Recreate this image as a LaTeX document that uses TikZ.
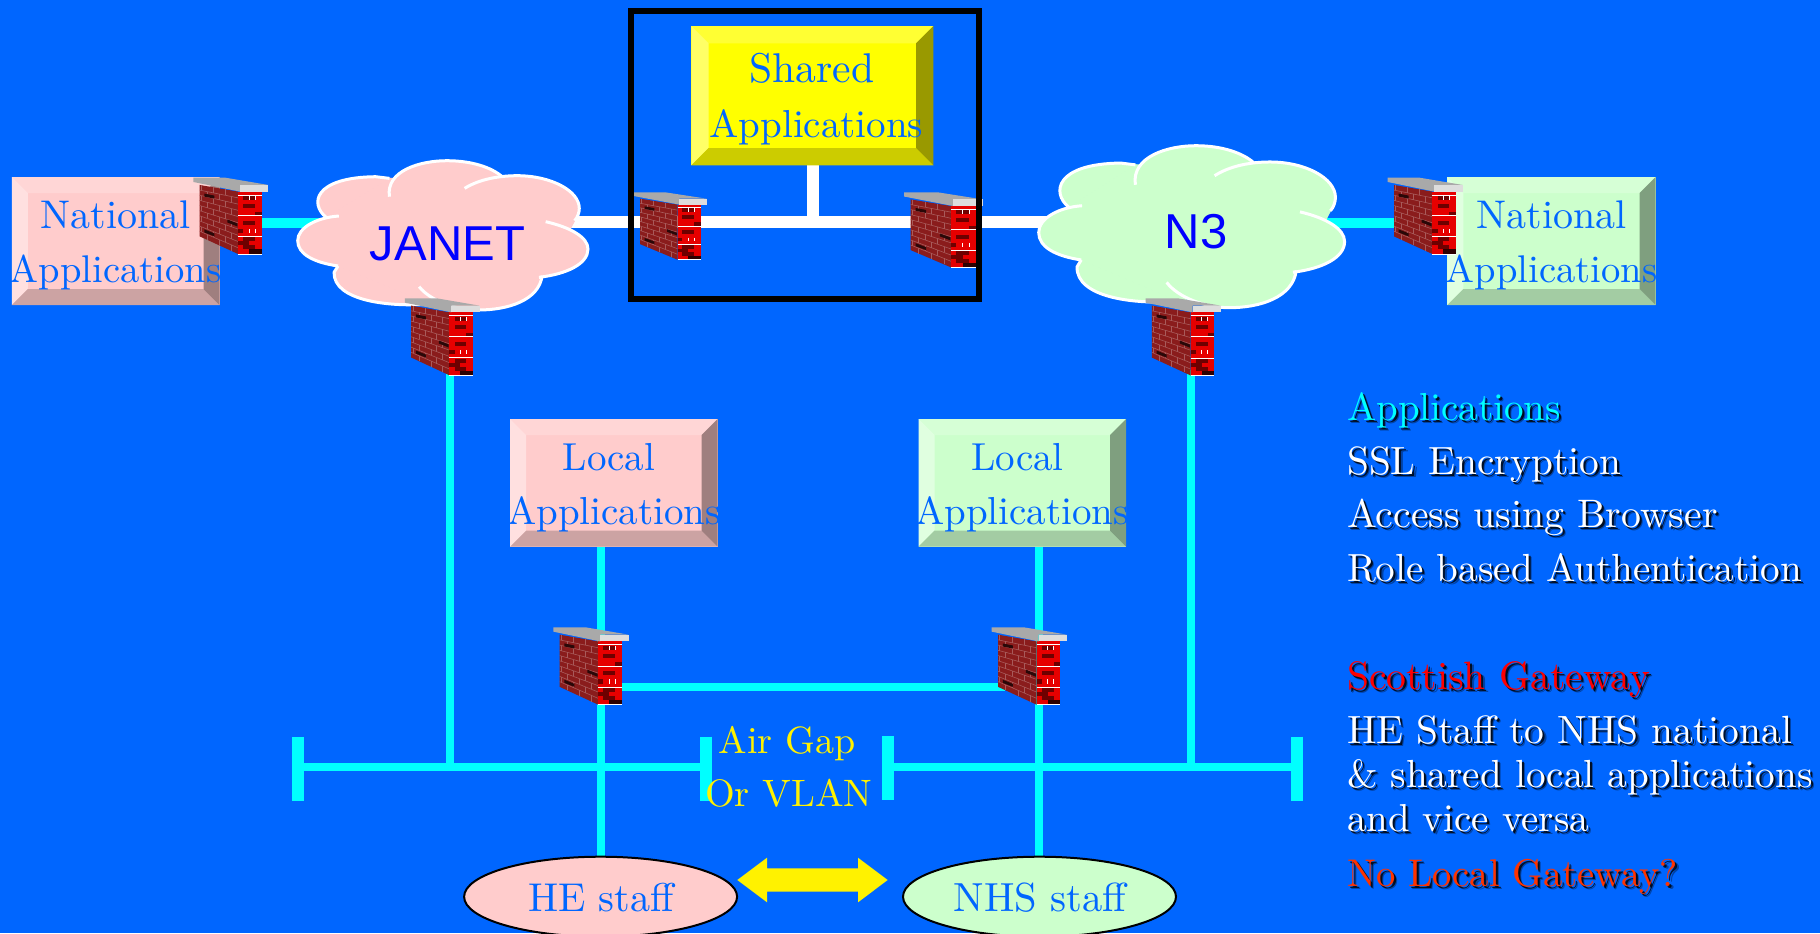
\documentclass[tikz,border=0pt]{standalone}
\usepackage{fontspec}
\usetikzlibrary{shapes.geometric}
\newfontfamily\arialfont{Liberation Sans}
\definecolor{bgblue}{HTML}{0066FF}
\definecolor{aqua}{HTML}{00FFFF}
\definecolor{pinkface}{HTML}{FFCCCC}
\definecolor{pinktop}{HTML}{FFD6D6}
\definecolor{pinkleft}{HTML}{FFE0E0}
\definecolor{pinkbot}{HTML}{CCA3A3}
\definecolor{pinkright}{HTML}{9F7F7F}
\definecolor{greenface}{HTML}{CCFFCC}
\definecolor{greentop}{HTML}{D6FFD6}
\definecolor{greenleft}{HTML}{E0FFE0}
\definecolor{greenbot}{HTML}{A3CCA3}
\definecolor{greenright}{HTML}{7F9F7F}
\definecolor{yelface}{HTML}{FFFF00}
\definecolor{yeltop}{HTML}{FFFF33}
\definecolor{yelleft}{HTML}{FFFF66}
\definecolor{yelbot}{HTML}{CCCC00}
\definecolor{yelright}{HTML}{999900}
\definecolor{brickwall}{HTML}{8A1C1C}
\definecolor{brickline}{HTML}{A85A5A}
\definecolor{brickdark}{HTML}{6E0000}
\definecolor{brickred}{HTML}{E60000}
\definecolor{capdark}{HTML}{A9A9A9}
\definecolor{caplight}{HTML}{DDDDDD}
\definecolor{orangered}{HTML}{FF3300}
\tikzset{
  cyanwire/.style={draw=aqua,line width=4pt},
  whitewire/.style={draw=white,line width=6pt},
  barwire/.style={draw=aqua,line width=6pt},
  lab/.style={anchor=base,inner sep=0pt},
  boxlab/.style={lab,text=bgblue},
  leftlab/.style={anchor=base west,inner sep=0pt},
  cloudlab/.style={anchor=base,inner sep=0pt,text=blue,font=\arialfont\fontsize{24.5}{28}\selectfont},
  staff/.style={draw=black,line width=1pt,ellipse,minimum width=136.5pt,minimum height=40pt,inner sep=0pt},
  framebox/.style={draw=black,line width=3pt},
}
% text set at the 10pt design size and enlarged
\newcommand{\bigt}[2][1.95]{\scalebox{#1}{#2}}
% bevelled box: name, left, top, right, bottom, colour prefix, bevel
\newcommand{\bevelbox}[7]{%
  \fill[#6face] (#2,#3) rectangle (#4,#5);
  \fill[#6top] (#2,#3) -- (#4,#3) -- ({#4-#7},{#3+#7}) -- ({#2+#7},{#3+#7}) -- cycle;
  \fill[#6left] (#2,#3) -- ({#2+#7},{#3+#7}) -- ({#2+#7},{#5-#7}) -- (#2,#5) -- cycle;
  \fill[#6bot] (#2,#5) -- ({#2+#7},{#5-#7}) -- ({#4-#7},{#5-#7}) -- (#4,#5) -- cycle;
  \fill[#6right] (#4,#3) -- ({#4-#7},{#3+#7}) -- ({#4-#7},{#5-#7}) -- (#4,#5) -- cycle;
  \coordinate (#1) at ({(#2+#4)/2},{(#3+#5)/2});
}
% firewall: name, x, y, w, h
\newcommand{\firewall}[5]{%
  \begin{scope}[shift={(#2,#3)},xscale={#4/75},yscale={#5/77}]
    \fill[brickwall] (6.3,7.3) -- (44.7,14) -- (44.7,76.7) -- (6.3,59) -- cycle;
    \foreach \i in {1,...,9}{
      \pgfmathsetmacro{\ya}{7.3+\i*5.17}
      \pgfmathsetmacro{\yb}{14+\i*6.27}
      \draw[brickline,line width=.3pt] (6.3,\ya) -- (44.7,\yb);
    }
    \foreach \i in {0,...,9}{
      \pgfmathsetmacro{\s}{mod(\i,2)==0 ? 0 : 6}
      \foreach \f in {10,22,34}{
        \pgfmathsetmacro{\xx}{\f+\s-2}
        \pgfmathsetmacro{\t}{(\xx-6.3)/38.4}
        \pgfmathsetmacro{\ya}{(7.3+\i*5.17)*(1-\t)+(14+\i*6.27)*\t}
        \pgfmathsetmacro{\yb}{(7.3+(\i+1)*5.17)*(1-\t)+(14+(\i+1)*6.27)*\t}
        \draw[brickline,line width=.3pt] (\xx,\ya) -- (\xx,\yb);
      }
    }
    \fill[black!70!brickwall] (11,16) -- (21,18) -- (21,21) -- (11,19) -- cycle;
    \fill[black!70!brickwall] (11,52) -- (21,56) -- (21,59) -- (11,55) -- cycle;
    \fill[black!70!brickwall] (34,42) -- (44,46) -- (44,49) -- (34,45) -- cycle;
    \fill[brickred] (44.7,14) rectangle (68.4,76.7);
    \fill[brickdark] (49.8,18.3) rectangle (61.7,22.3);
    \fill[brickdark] (49.8,26.3) rectangle (61.7,30.3);
    \fill[brickdark] (61.7,34.3) rectangle (68.4,38.3);
    \fill[brickdark] (49.8,43.3) rectangle (61.7,47.3);
    \fill[brickdark] (44.7,51.7) rectangle (49.8,55.7);
    \fill[brickdark] (49.8,60) rectangle (61.7,64);
    \fill[brickdark] (44.7,64) rectangle (55.7,68);
    \fill[brickdark] (49.8,68) rectangle (61.7,72);
    \fill[black!60!brickdark] (55.7,72) rectangle (68.4,76.7);
    \foreach \yy in {17.3,38.3,59.3,76.7}{\draw[white,line width=.4pt] (44.7,\yy) -- (68.4,\yy);}
    \foreach \xx/\ya/\yb in {55.7/18.3/22.3,61.7/18.3/22.3,55.7/51.7/55.7,61.7/51.7/55.7}{\draw[white,line width=.3pt] (\xx,\ya) -- (\xx,\yb);}
    \fill[capdark] (0,0) -- (32,0) -- (75,7.3) -- (46.7,7.3) -- (46.7,14) -- (0,4.3) -- cycle;
    \fill[caplight] (46.7,7.3) rectangle (75,14);
    \coordinate (#1) at (37.5,38.5);
  \end{scope}
}
% cloud: name, left, top, width, height, colour
\newcommand{\netcloud}[6]{%
  \begin{scope}[shift={(#2,#3)},xscale={#4/734},yscale={#5/448}]
    \begin{scope}[fill=#6,draw=#6,line width=.5pt]
    \filldraw (72,170) .. controls (30,130) and (40,50) .. (197,48) -- (232,53) -- cycle;
    \filldraw (232,108) .. controls (222,30) and (310,0) .. (377,0) .. controls (440,0) and (490,20) .. (517,48) -- cycle;
    \filldraw (422,83) .. controls (460,55) and (510,45) .. (555,45) .. controls (640,45) and (712,90) .. (712,143) .. controls (712,155) and (708,170) .. (700,180) -- cycle;
    \filldraw (627,183) .. controls (690,200) and (734,230) .. (734,265) .. controls (734,310) and (680,340) .. (610,350) -- cycle;
    \filldraw (618,345) .. controls (610,420) and (530,448) .. (457,448) .. controls (400,448) and (335,420) .. (307,378) -- cycle;
    \filldraw (335,430) .. controls (230,440) and (90,420) .. (92,335) -- (102,316) -- cycle;
    \filldraw (102,316) .. controls (40,305) and (0,280) .. (0,240) .. controls (0,200) and (50,170) .. (104,166) -- cycle;
    \filldraw (72,170) -- (232,53) -- (517,48) -- (700,180) -- (627,345) -- (335,430) -- (102,316) -- cycle;
    \end{scope}
    \begin{scope}[draw=white,line width=1.5pt]
      \draw (72,170) .. controls (30,130) and (40,50) .. (197,48) -- (232,53);
      \draw (232,108) .. controls (222,30) and (310,0) .. (377,0) .. controls (440,0) and (490,20) .. (517,48);
      \draw (422,83) .. controls (460,55) and (510,45) .. (555,45) .. controls (640,45) and (712,90) .. (712,143) .. controls (712,155) and (708,170) .. (700,180);
      \draw (627,183) .. controls (690,200) and (734,230) .. (734,265) .. controls (734,310) and (680,340) .. (610,350);
      \draw (618,345) .. controls (610,420) and (530,448) .. (457,448) .. controls (400,448) and (335,420) .. (307,378);
      \draw (335,430) .. controls (230,440) and (90,420) .. (92,335) -- (102,316);
      \draw (102,316) .. controls (40,305) and (0,280) .. (0,240) .. controls (0,200) and (50,170) .. (104,166);
    \end{scope}
    \coordinate (#1) at (367,224);
  \end{scope}
}
% shadowed text: name, x, baseline, colour, text, enlargement
\newcommand{\shadowtext}[6]{%
  \node[leftlab,text=black,opacity=.35] at ({#2+3.2},{#3+3.2}) {\bigt[#6]{#5}};
  \node[leftlab,text=black,opacity=.8] at ({#2+2},{#3+2}) {\bigt[#6]{#5}};
  \node[leftlab,text=#4] (#1) at (#2,#3) {\bigt[#6]{#5}};
}
\begin{document}
\begin{tikzpicture}[x=0.5pt,y=-0.5pt]
\useasboundingbox (0,0) rectangle (1820,933);
\clip (0,0) rectangle (1820,933);
\fill[bgblue] (0,0) rectangle (1820,933);

% connector end points
\coordinate (natLwire) at (258,222.5);
\coordinate (janetW) at (400,222.5);
\coordinate (janetE) at (560,222);
\coordinate (n3W) at (1060,222);
\coordinate (n3E) at (1310,222.5);
\coordinate (natRwire) at (1395,222.5);
\coordinate (stemT) at (812.5,160);
\coordinate (stemB) at (812.5,222);
\coordinate (janetS) at (449.8,370);
\coordinate (n3S) at (1191,370);
\coordinate (busLa) at (298,766.8);
\coordinate (busLj) at (449.8,766.8);
\coordinate (busLb) at (706.3,766.8);
\coordinate (busRa) at (888,766.5);
\coordinate (busRj) at (1191,766.5);
\coordinate (busRb) at (1296.5,766.5);
\coordinate (barLaT) at (298,737); \coordinate (barLaB) at (298,801);
\coordinate (barLbT) at (706.3,736.7); \coordinate (barLbB) at (706.3,800.7);
\coordinate (barRaT) at (888,736.3); \coordinate (barRaB) at (888,800);
\coordinate (barRbT) at (1296.5,736.7); \coordinate (barRbB) at (1296.5,800.7);
\coordinate (locLT) at (601.3,540);
\coordinate (locLB) at (601.3,860);
\coordinate (locRT) at (1039,540);
\coordinate (locRB) at (1039,860);
\coordinate (gapL) at (620,687.2);
\coordinate (gapR) at (1005,687.2);

% wires
\draw[whitewire] (janetE) -- (n3W);
\draw[whitewire] (stemT) -- (stemB);
\draw[cyanwire,line width=5pt] (natLwire) -- (janetW);
\draw[cyanwire,line width=5pt] (n3E) -- (natRwire);
\draw[cyanwire] (janetS) -- (busLj);
\draw[cyanwire] (n3S) -- (busRj);
\draw[cyanwire] (busLa) -- (busLb);
\draw[cyanwire] (busRa) -- (busRb);
\draw[barwire] (barLaT) -- (barLaB);
\draw[barwire] (barLbT) -- (barLbB);
\draw[barwire] (barRaT) -- (barRaB);
\draw[barwire] (barRbT) -- (barRbB);
\draw[cyanwire] (locLT) -- (locLB);
\draw[cyanwire] (locRT) -- (locRB);
\draw[cyanwire] (gapL) -- (gapR);

% boxes
\bevelbox{natL}{11.9}{177}{219.5}{305}{pink}{16}
\bevelbox{natR}{1447.4}{177}{1655.6}{305}{green}{16}
\bevelbox{shared}{691.3}{26}{933.3}{165.3}{yel}{17.3}
\bevelbox{locL}{510.2}{419}{717.7}{546.7}{pink}{16}
\bevelbox{locR}{918.5}{419}{1126}{546.7}{green}{16}

% clouds
\netcloud{janet}{297.7}{160.7}{290.3}{149.3}{pinkface}
\netcloud{nthree}{1038.7}{145.7}{305.9}{162}{greenface}

% firewalls
\firewall{fwA}{193.4}{177.7}{75}{76.6}
\firewall{fwB}{404.9}{298.3}{74.7}{77.3}
\firewall{fwC}{634}{192.3}{73}{67.7}
\firewall{fwD}{904}{192.3}{79}{75.4}
\firewall{fwE}{1387.7}{177.7}{75}{76.6}
\firewall{fwF}{1145.6}{298.3}{75.4}{77.4}
\firewall{fwG}{553.3}{627.3}{75.4}{77.7}
\firewall{fwH}{991.7}{627.3}{75.4}{77.7}

% frame
\draw[framebox] (631,11) rectangle (979,298.6);

% box labels
\node[boxlab] (t1) at (115.5,228.3) {\bigt[2]{National}};
\node[boxlab] (t2) at (115.5,282.7) {\bigt[1.93]{Applications}};
\node[boxlab] (t3) at (1551.5,228.3) {\bigt[2]{National}};
\node[boxlab] (t4) at (1551.5,282.7) {\bigt[1.93]{Applications}};
\node[boxlab] (t5) at (812,82.7) {\bigt[2.08]{Shared}};
\node[boxlab] (t6) at (816.5,137.3) {\bigt{Applications}};
\node[boxlab] (t7) at (609,470.7) {\bigt{Local}};
\node[boxlab] (t8) at (614,524) {\bigt{Applications}};
\node[boxlab] (t9) at (1017.5,470.7) {\bigt{Local}};
\node[boxlab] (t10) at (1022,524) {\bigt{Applications}};

\node[cloudlab] (t11) at (447.5,260) {JANET};
\node[cloudlab] (t12) at (1196,248) {N3};

\node[lab,text=yellow] (t13) at (787,753.3) {\bigt[1.9]{Air Gap}};
\node[lab,text=yellow] (t14) at (788.7,806.7) {\bigt[1.91]{Or VLAN}};

% staff ellipses
\node[staff,fill=pinkface] (he) at (600.6,896.7) {};
\node[staff,fill=greenface] (nhs) at (1039.5,896.7) {};
\node[boxlab] (t15) at (601,911.7) {\bigt[2.01]{HE staff}};
\node[boxlab] (t16) at (1040,911.7) {\bigt[2.03]{NHS staff}};

% double arrow
\fill[yellow] (737.3,880) -- (767,857.7) -- (767,868.3) -- (858,868.3) -- (858,857.7) -- (887.7,880) -- (858,902.3) -- (858,891.7) -- (767,891.7) -- (767,902.3) -- cycle;

% side text
\shadowtext{s1}{1346.7}{420}{aqua}{Applications}{1.95}
\shadowtext{s2}{1346.7}{474.3}{white}{SSL Encryption}{1.97}
\shadowtext{s3}{1346.7}{527.7}{white}{Access using Browser}{1.99}
\shadowtext{s4}{1346.7}{581}{white}{Role based Authentication}{1.96}
\shadowtext{s5}{1346.7}{689.3}{red}{Scottish Gateway}{1.98}
\shadowtext{s6}{1346.7}{743.3}{white}{HE Staff to NHS national}{1.97}
\shadowtext{s7}{1346.7}{787.3}{white}{\& shared local applications}{1.96}
\shadowtext{s8}{1346.7}{831.7}{white}{and vice versa}{1.95}
\shadowtext{s9}{1346.7}{886}{orangered}{No Local Gateway?}{1.93}
\end{tikzpicture}
\end{document}
